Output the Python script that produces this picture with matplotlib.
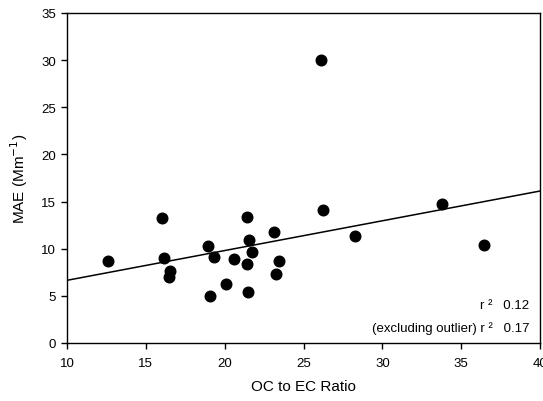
import matplotlib.pyplot as plt

plt.rcParams['font.family'] = ['Liberation Sans', 'DejaVu Sans']

oc_ec = [12.6, 16.0, 16.17, 16.55, 16.45, 18.92, 19.32, 19.09, 20.08, 20.61,
         21.44, 21.54, 21.73, 21.44, 21.5, 23.15, 23.42, 23.25, 26.11, 26.26,
         28.24, 33.76, 36.42]
mae = [8.73, 13.29, 8.98, 7.67, 7.0, 10.32, 9.12, 4.98, 6.29, 8.91,
       13.33, 10.92, 9.62, 8.38, 5.44, 11.8, 8.7, 7.28, 30.0, 14.14,
       11.38, 14.74, 10.39]

# regression line (slope, intercept)
slope = 0.3157
intercept = 3.49
line_x = [10, 40]

fig = plt.figure(figsize=(5.43, 4.02), dpi=100)
ax = fig.add_axes([0.1234, 0.1443, 0.8711, 0.8209])

ax.scatter(oc_ec, mae, s=58, color='black', zorder=3)
ax.plot(line_x, [slope * x + intercept for x in line_x], color='black', lw=1.1)

ax.set_xlim(10, 40)
ax.set_ylim(0, 35)
ax.set_xticks(range(10, 41, 5))
ax.set_yticks(range(0, 36, 5))
ax.tick_params(direction='out', length=4, width=1, labelsize=9.5)
ax.tick_params(axis='x', pad=6)
ax.tick_params(axis='y', pad=4)
for s in ax.spines.values():
    s.set_linewidth(1)

ax.set_xlabel('OC to EC Ratio', fontsize=11, labelpad=7)
ax.set_ylabel('MAE (Mm$^{-1}$)', fontsize=11, labelpad=8)

ax.text(0.978, 0.115, 'r ²   0.12', transform=ax.transAxes, ha='right', va='center', fontsize=9.5)
ax.text(0.978, 0.048, '(excluding outlier) r ²   0.17', transform=ax.transAxes, ha='right', va='center', fontsize=9.5)

fig.savefig('out.png', dpi=100)
